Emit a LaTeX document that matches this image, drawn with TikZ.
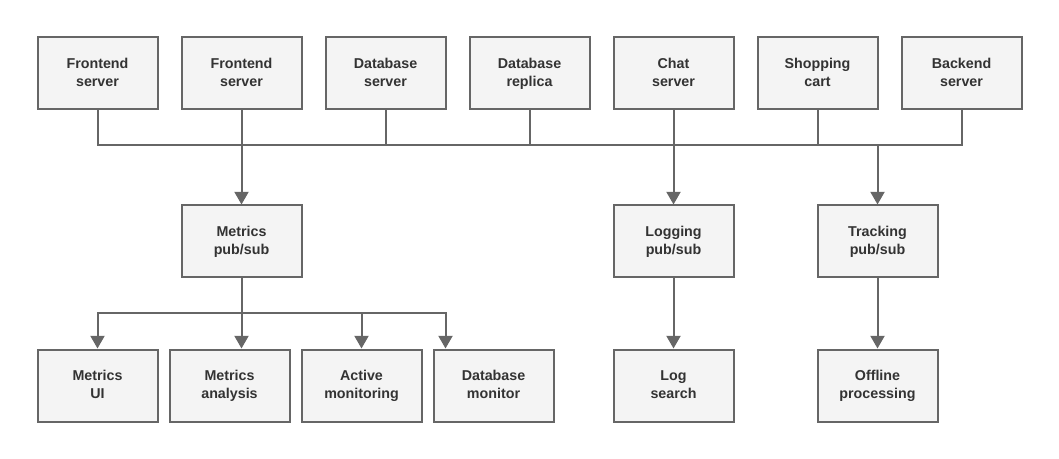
\documentclass[tikz,border=0pt]{standalone}
\usepackage{fontspec}
\setmainfont{Liberation Sans}
\usetikzlibrary{arrows.meta,calc}
\definecolor{linegray}{HTML}{666666}
\definecolor{boxgray}{HTML}{F4F4F4}
\definecolor{textgray}{HTML}{333333}
\newcommand{\twolines}[2]{\strut#1\\\strut#2}
\tikzset{
  box/.style = {draw=linegray, fill=boxgray, line width=1.5pt, minimum width=90pt, minimum height=54pt, inner sep=0pt, align=center, text=textgray, font=\fontsize{10.7}{13.5}\selectfont\bfseries},
  link/.style = {draw=linegray, line width=1.5pt},
  arrow/.style = {link, -{Triangle[width=10.5pt,length=9.5pt]}}
}

\begin{document}
\begin{tikzpicture}[x=0.75pt,y=-0.75pt]
\useasboundingbox (0,0) rectangle (1059,459);
% top row
\node [box] (fe1) at (97.5,73.5) {\twolines{Frontend}{server}};
\node [box] (fe2) at (241.5,73.5) {\twolines{Frontend}{server}};
\node [box] (dbs) at (385.5,73.5) {\twolines{Database}{server}};
\node [box] (dbr) at (529.5,73.5) {\twolines{Database}{replica}};
\node [box] (chat) at (673.5,73.5) {\twolines{Chat}{server}};
\node [box] (cart) at (817.5,73.5) {\twolines{Shopping}{cart}};
\node [box] (be) at (961.5,73.5) {\twolines{Backend}{server}};
% pub/sub row
\node [box] (mps) at (241.5,241.5) {\twolines{Metrics}{pub/sub}};
\node [box] (lps) at (673.5,241.5) {\twolines{Logging}{pub/sub}};
\node [box] (tps) at (877.5,241.5) {\twolines{Tracking}{pub/sub}};
% bottom row
\node [box] (mui) at (97.5,385.5) {\twolines{Metrics}{UI}};
\node [box] (man) at (229.5,385.5) {\twolines{Metrics}{analysis}};
\node [box] (act) at (361.5,385.5) {\twolines{Active}{monitoring}};
\node [box] (dbm) at (493.5,385.5) {\twolines{Database}{monitor}};
\node [box] (lsr) at (673.5,385.5) {\twolines{Log}{search}};
\node [box] (off) at (877.5,385.5) {\twolines{Offline}{processing}};

\coordinate (bus) at (0,145.5);
\coordinate (bus2) at (0,313.5);

% top bus
\draw [link] (fe1.south) |- (bus -| be.south) -- (be.south);
\foreach \n in {fe2,dbs,dbr,chat,cart}
	\draw [link] (\n.south) -- (\n.south |- bus);
\foreach \n in {mps,lps,tps}
	\draw [arrow] (\n.north |- bus) -- (\n.north);

% metrics fan out
\draw [link] (mps.south) -- (mps.south |- bus2);
\draw [arrow] (mps.south |- bus2) -| (mui.north);
\draw [arrow] (mps.south |- bus2) -- (mps.south |- man.north);
\draw [arrow] (mps.south |- bus2) -| (act.north);
\draw [arrow] (mps.south |- bus2) -| ([xshift=-36pt]dbm.north);

% single chains
\draw [arrow] (lps.south) -- (lsr.north);
\draw [arrow] (tps.south) -- (off.north);
\end{tikzpicture}
\end{document}
